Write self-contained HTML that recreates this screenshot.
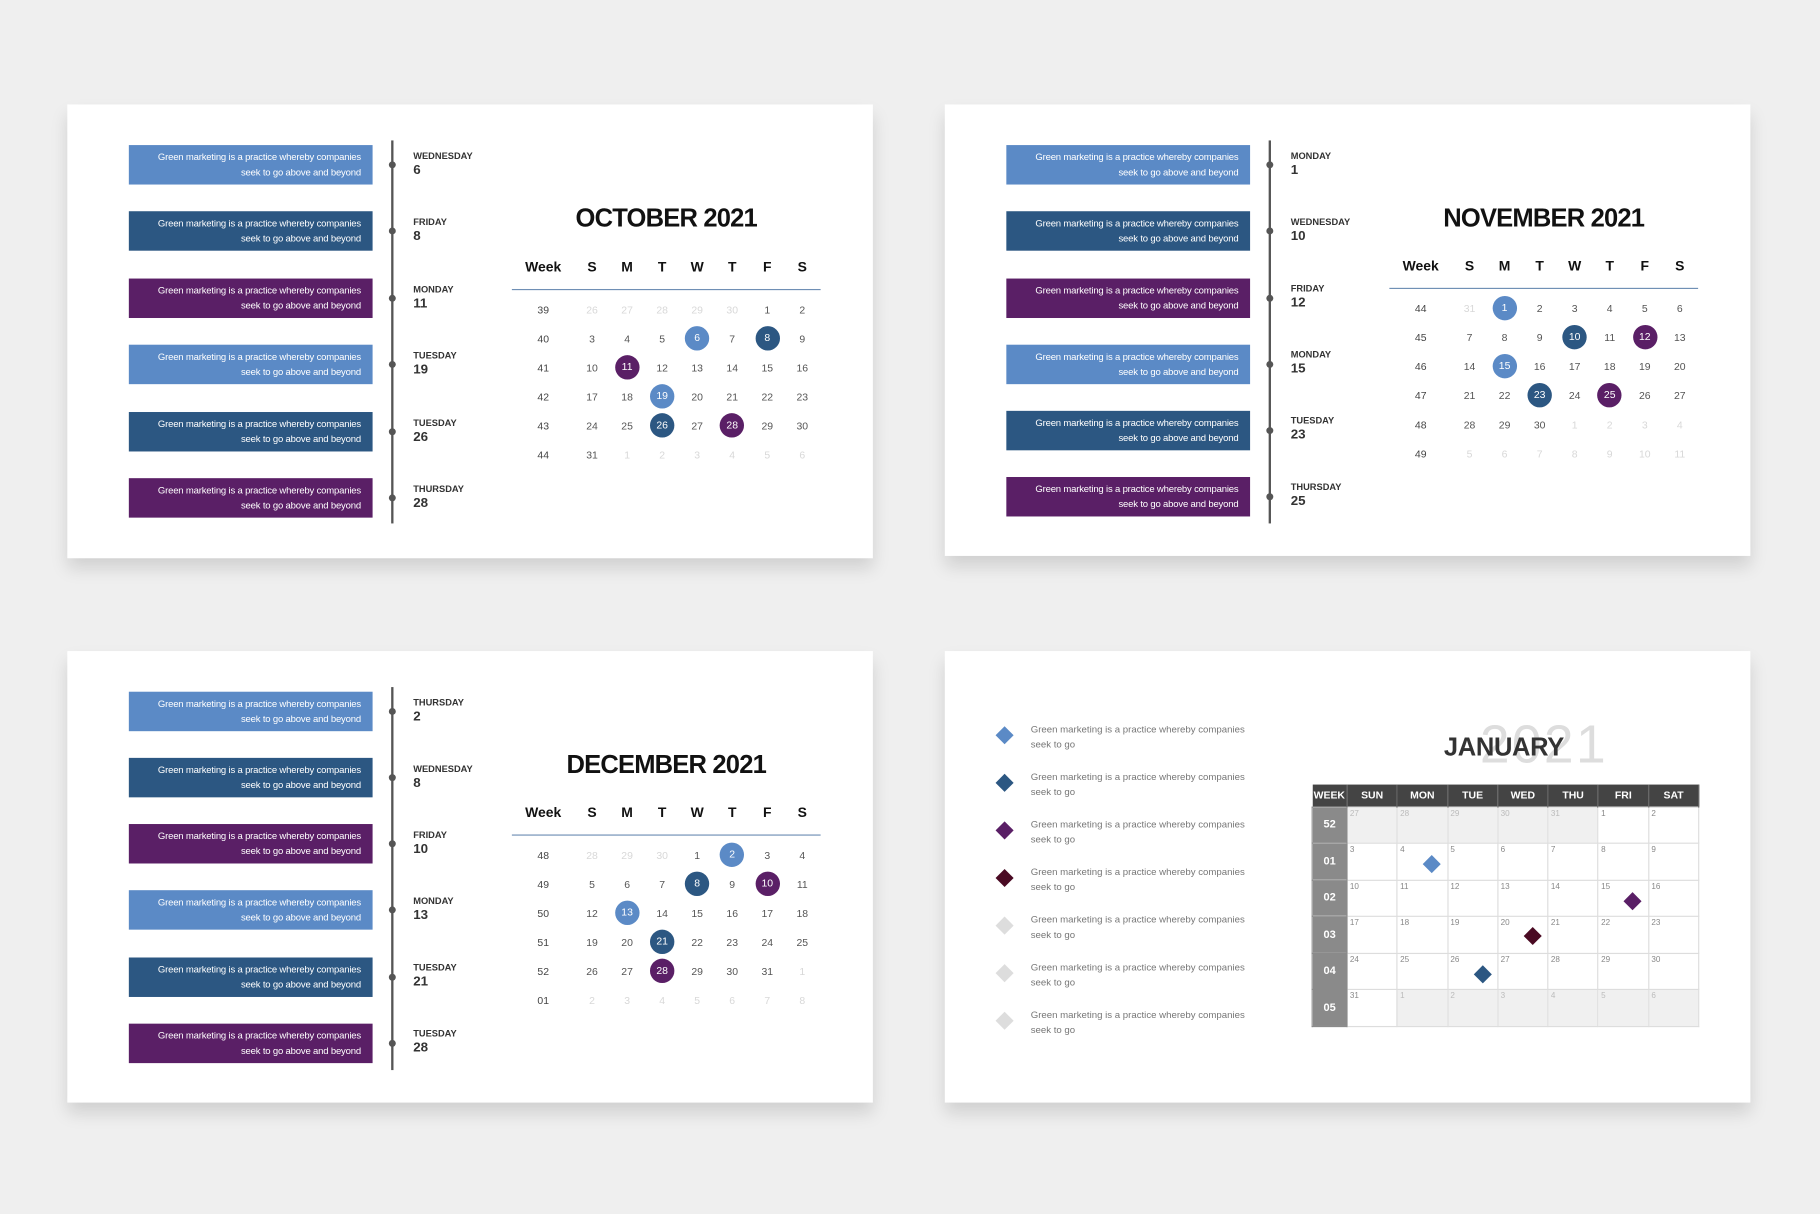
<!DOCTYPE html><html><head><meta charset="utf-8"><style>
*{margin:0;padding:0;box-sizing:border-box}
body{width:1820px;height:1214px;background:#efefef;overflow:hidden;font-family:"Liberation Sans",sans-serif}
#w{position:absolute;left:0;top:0;width:1568px;height:1046px;transform:scale(1.16071,1.16061);transform-origin:0 0}
.p{position:absolute;background:#fff;width:694px;height:390px;box-shadow:0 9px 14px rgba(0,0,0,.13)}
.box{position:absolute;left:53px;width:210px;height:34px;color:#fff;font-size:8.2px;line-height:13px;text-align:right;padding:4px 10px 0 0;letter-spacing:-.15px}
.lb{background:#5b8ac6}.db{background:#2c5782}.pu{background:#5a1f66}
.tl{position:absolute;left:279px;top:31px;width:2px;height:330px;background:#555}
.dot{position:absolute;left:277px;width:6px;height:6px;border-radius:50%;background:#555}
.lab{position:absolute;left:298px;color:#333;font-weight:bold}
.lab b{display:block;font-size:8px;line-height:10px}
.lab i{display:block;font-style:normal;font-size:11.5px;line-height:14px}
.tt{position:absolute;left:383px;width:266px;text-align:center;top:85px;font-size:22px;font-weight:bold;color:#111;letter-spacing:-.7px}
.cal{position:absolute;left:383px;top:128px;width:266px}
.r{display:flex;height:25px;align-items:center;font-size:9px;color:#555}
.r span{width:30.2px;text-align:center}
.r span:first-child{width:54px;color:#444}
.h{font-weight:bold;font-size:12px;color:#111;height:32px;align-items:flex-start;line-height:24px;border-bottom:1.5px solid #6f8fb5;margin-bottom:4px}
.h span:first-child{color:#111}
.g{color:#d8d8d8}
.c{display:inline-block;width:21px;height:21px;border-radius:50%;line-height:21px;color:#fff;font-style:normal}
.c1{background:#5b8ac6}.c2{background:#2c5782}.c3{background:#5a1f66}
.ld{position:absolute;left:46px;width:11px;height:11px;transform:rotate(45deg)}
.lt{position:absolute;left:74px;font-size:8.3px;line-height:13px;color:#777}
table{position:absolute;left:316px;top:115px;width:334px;border-collapse:collapse;table-layout:fixed}
th{background:#444;color:#fff;font-size:9px;height:19px;border-right:1px solid #666}
td{height:31.5px;border:1px solid #ddd;vertical-align:top;font-size:7px;color:#888;padding:2px;position:relative}
td.wk{background:#8a8a8a;color:#fff;font-weight:bold;font-size:9.5px;vertical-align:middle;text-align:center;border-color:#8a8a8a}
td.o{background:#f0f0f0;color:#bbb}
.dm{position:absolute;width:11px;height:11px;transform:rotate(45deg)}
</style></head><body><div id="w">

<!-- OCTOBER -->
<div class="p" style="left:58px;top:90px;height:391px">
<div class="box lb" style="top:35px">Green marketing is a practice whereby companies<br>seek to go above and beyond</div>
<div class="box db" style="top:92px">Green marketing is a practice whereby companies<br>seek to go above and beyond</div>
<div class="box pu" style="top:150px">Green marketing is a practice whereby companies<br>seek to go above and beyond</div>
<div class="box lb" style="top:207px">Green marketing is a practice whereby companies<br>seek to go above and beyond</div>
<div class="box db" style="top:265px">Green marketing is a practice whereby companies<br>seek to go above and beyond</div>
<div class="box pu" style="top:322px">Green marketing is a practice whereby companies<br>seek to go above and beyond</div>
<div class="tl"></div>
<div class="dot" style="top:49px"></div><div class="dot" style="top:106px"></div><div class="dot" style="top:164px"></div><div class="dot" style="top:221px"></div><div class="dot" style="top:279px"></div><div class="dot" style="top:336px"></div>
<div class="lab" style="top:40px"><b>WEDNESDAY</b><i>6</i></div>
<div class="lab" style="top:97px"><b>FRIDAY</b><i>8</i></div>
<div class="lab" style="top:155px"><b>MONDAY</b><i>11</i></div>
<div class="lab" style="top:212px"><b>TUESDAY</b><i>19</i></div>
<div class="lab" style="top:270px"><b>TUESDAY</b><i>26</i></div>
<div class="lab" style="top:327px"><b>THURSDAY</b><i>28</i></div>
<div class="tt">OCTOBER 2021</div>
<div class="cal">
<div class="r h"><span>Week</span><span>S</span><span>M</span><span>T</span><span>W</span><span>T</span><span>F</span><span>S</span></div>
<div class="r"><span>39</span><span class="g">26</span><span class="g">27</span><span class="g">28</span><span class="g">29</span><span class="g">30</span><span>1</span><span>2</span></div>
<div class="r"><span>40</span><span>3</span><span>4</span><span>5</span><span><i class="c c1">6</i></span><span>7</span><span><i class="c c2">8</i></span><span>9</span></div>
<div class="r"><span>41</span><span>10</span><span><i class="c c3">11</i></span><span>12</span><span>13</span><span>14</span><span>15</span><span>16</span></div>
<div class="r"><span>42</span><span>17</span><span>18</span><span><i class="c c1">19</i></span><span>20</span><span>21</span><span>22</span><span>23</span></div>
<div class="r"><span>43</span><span>24</span><span>25</span><span><i class="c c2">26</i></span><span>27</span><span><i class="c c3">28</i></span><span>29</span><span>30</span></div>
<div class="r"><span>44</span><span>31</span><span class="g">1</span><span class="g">2</span><span class="g">3</span><span class="g">4</span><span class="g">5</span><span class="g">6</span></div>
</div></div>

<!-- NOVEMBER -->
<div class="p" style="left:814px;top:90px;height:389px">
<div class="box lb" style="top:35px">Green marketing is a practice whereby companies<br>seek to go above and beyond</div>
<div class="box db" style="top:92px">Green marketing is a practice whereby companies<br>seek to go above and beyond</div>
<div class="box pu" style="top:150px">Green marketing is a practice whereby companies<br>seek to go above and beyond</div>
<div class="box lb" style="top:207px">Green marketing is a practice whereby companies<br>seek to go above and beyond</div>
<div class="box db" style="top:264px">Green marketing is a practice whereby companies<br>seek to go above and beyond</div>
<div class="box pu" style="top:321px">Green marketing is a practice whereby companies<br>seek to go above and beyond</div>
<div class="tl"></div>
<div class="dot" style="top:49px"></div><div class="dot" style="top:106px"></div><div class="dot" style="top:164px"></div><div class="dot" style="top:221px"></div><div class="dot" style="top:278px"></div><div class="dot" style="top:335px"></div>
<div class="lab" style="top:40px"><b>MONDAY</b><i>1</i></div>
<div class="lab" style="top:97px"><b>WEDNESDAY</b><i>10</i></div>
<div class="lab" style="top:154px"><b>FRIDAY</b><i>12</i></div>
<div class="lab" style="top:211px"><b>MONDAY</b><i>15</i></div>
<div class="lab" style="top:268px"><b>TUESDAY</b><i>23</i></div>
<div class="lab" style="top:325px"><b>THURSDAY</b><i>25</i></div>
<div class="tt">NOVEMBER 2021</div>
<div class="cal" style="top:127px">
<div class="r h"><span>Week</span><span>S</span><span>M</span><span>T</span><span>W</span><span>T</span><span>F</span><span>S</span></div>
<div class="r"><span>44</span><span class="g">31</span><span><i class="c c1">1</i></span><span>2</span><span>3</span><span>4</span><span>5</span><span>6</span></div>
<div class="r"><span>45</span><span>7</span><span>8</span><span>9</span><span><i class="c c2">10</i></span><span>11</span><span><i class="c c3">12</i></span><span>13</span></div>
<div class="r"><span>46</span><span>14</span><span><i class="c c1">15</i></span><span>16</span><span>17</span><span>18</span><span>19</span><span>20</span></div>
<div class="r"><span>47</span><span>21</span><span>22</span><span><i class="c c2">23</i></span><span>24</span><span><i class="c c3">25</i></span><span>26</span><span>27</span></div>
<div class="r"><span>48</span><span>28</span><span>29</span><span>30</span><span class="g">1</span><span class="g">2</span><span class="g">3</span><span class="g">4</span></div>
<div class="r"><span>49</span><span class="g">5</span><span class="g">6</span><span class="g">7</span><span class="g">8</span><span class="g">9</span><span class="g">10</span><span class="g">11</span></div>
</div></div>

<!-- DECEMBER -->
<div class="p" style="left:58px;top:561px;height:389px">
<div class="box lb" style="top:35px">Green marketing is a practice whereby companies<br>seek to go above and beyond</div>
<div class="box db" style="top:92px">Green marketing is a practice whereby companies<br>seek to go above and beyond</div>
<div class="box pu" style="top:149px">Green marketing is a practice whereby companies<br>seek to go above and beyond</div>
<div class="box lb" style="top:206px">Green marketing is a practice whereby companies<br>seek to go above and beyond</div>
<div class="box db" style="top:264px">Green marketing is a practice whereby companies<br>seek to go above and beyond</div>
<div class="box pu" style="top:321px">Green marketing is a practice whereby companies<br>seek to go above and beyond</div>
<div class="tl"></div>
<div class="dot" style="top:49px"></div><div class="dot" style="top:106px"></div><div class="dot" style="top:163px"></div><div class="dot" style="top:220px"></div><div class="dot" style="top:278px"></div><div class="dot" style="top:335px"></div>
<div class="lab" style="top:40px"><b>THURSDAY</b><i>2</i></div>
<div class="lab" style="top:97px"><b>WEDNESDAY</b><i>8</i></div>
<div class="lab" style="top:154px"><b>FRIDAY</b><i>10</i></div>
<div class="lab" style="top:211px"><b>MONDAY</b><i>13</i></div>
<div class="lab" style="top:268px"><b>TUESDAY</b><i>21</i></div>
<div class="lab" style="top:325px"><b>TUESDAY</b><i>28</i></div>
<div class="tt">DECEMBER 2021</div>
<div class="cal" style="top:127px">
<div class="r h"><span>Week</span><span>S</span><span>M</span><span>T</span><span>W</span><span>T</span><span>F</span><span>S</span></div>
<div class="r"><span>48</span><span class="g">28</span><span class="g">29</span><span class="g">30</span><span>1</span><span><i class="c c1">2</i></span><span>3</span><span>4</span></div>
<div class="r"><span>49</span><span>5</span><span>6</span><span>7</span><span><i class="c c2">8</i></span><span>9</span><span><i class="c c3">10</i></span><span>11</span></div>
<div class="r"><span>50</span><span>12</span><span><i class="c c1">13</i></span><span>14</span><span>15</span><span>16</span><span>17</span><span>18</span></div>
<div class="r"><span>51</span><span>19</span><span>20</span><span><i class="c c2">21</i></span><span>22</span><span>23</span><span>24</span><span>25</span></div>
<div class="r"><span>52</span><span>26</span><span>27</span><span><i class="c c3">28</i></span><span>29</span><span>30</span><span>31</span><span class="g">1</span></div>
<div class="r"><span>01</span><span class="g">2</span><span class="g">3</span><span class="g">4</span><span class="g">5</span><span class="g">6</span><span class="g">7</span><span class="g">8</span></div>
</div></div>

<!-- JANUARY -->
<div class="p" style="left:814px;top:561px;height:389px">
<div class="ld" style="top:67px;background:#5b8ac6"></div>
<div class="ld" style="top:108px;background:#2c5782"></div>
<div class="ld" style="top:149px;background:#5a1f66"></div>
<div class="ld" style="top:190px;background:#4a0a23"></div>
<div class="ld" style="top:231px;background:#ddd"></div>
<div class="ld" style="top:272px;background:#ddd"></div>
<div class="ld" style="top:313px;background:#ddd"></div>
<div class="lt" style="top:61px">Green marketing is a practice whereby companies<br>seek to go</div>
<div class="lt" style="top:102px">Green marketing is a practice whereby companies<br>seek to go</div>
<div class="lt" style="top:143px">Green marketing is a practice whereby companies<br>seek to go</div>
<div class="lt" style="top:184px">Green marketing is a practice whereby companies<br>seek to go</div>
<div class="lt" style="top:225px">Green marketing is a practice whereby companies<br>seek to go</div>
<div class="lt" style="top:266px">Green marketing is a practice whereby companies<br>seek to go</div>
<div class="lt" style="top:307px">Green marketing is a practice whereby companies<br>seek to go</div>
<div style="position:absolute;left:461px;top:55px;font-size:46px;line-height:50px;color:#ddd;letter-spacing:2px">2021</div>
<div style="position:absolute;left:430px;top:70px;font-size:22px;font-weight:bold;color:#333;letter-spacing:-.3px">JANUARY</div>
<table>
<colgroup><col style="width:30px"><col><col><col><col><col><col><col></colgroup>
<tr><th>WEEK</th><th>SUN</th><th>MON</th><th>TUE</th><th>WED</th><th>THU</th><th>FRI</th><th>SAT</th></tr>
<tr><td class="wk">52</td><td class="o">27</td><td class="o">28</td><td class="o">29</td><td class="o">30</td><td class="o">31</td><td>1</td><td>2</td></tr>
<tr><td class="wk">01</td><td>3</td><td>4<i class="dm" style="left:24px;top:12px;background:#5b8ac6"></i></td><td>5</td><td>6</td><td>7</td><td>8</td><td>9</td></tr>
<tr><td class="wk">02</td><td>10</td><td>11</td><td>12</td><td>13</td><td>14</td><td>15<i class="dm" style="left:24px;top:12px;background:#5a1f66"></i></td><td>16</td></tr>
<tr><td class="wk">03</td><td>17</td><td>18</td><td>19</td><td>20<i class="dm" style="left:24px;top:11px;background:#4a0a23"></i></td><td>21</td><td>22</td><td>23</td></tr>
<tr><td class="wk">04</td><td>24</td><td>25</td><td>26<i class="dm" style="left:24px;top:12px;background:#2c5782"></i></td><td>27</td><td>28</td><td>29</td><td>30</td></tr>
<tr><td class="wk">05</td><td>31</td><td class="o">1</td><td class="o">2</td><td class="o">3</td><td class="o">4</td><td class="o">5</td><td class="o">6</td></tr>
</table>
</div>
</div></body></html>
